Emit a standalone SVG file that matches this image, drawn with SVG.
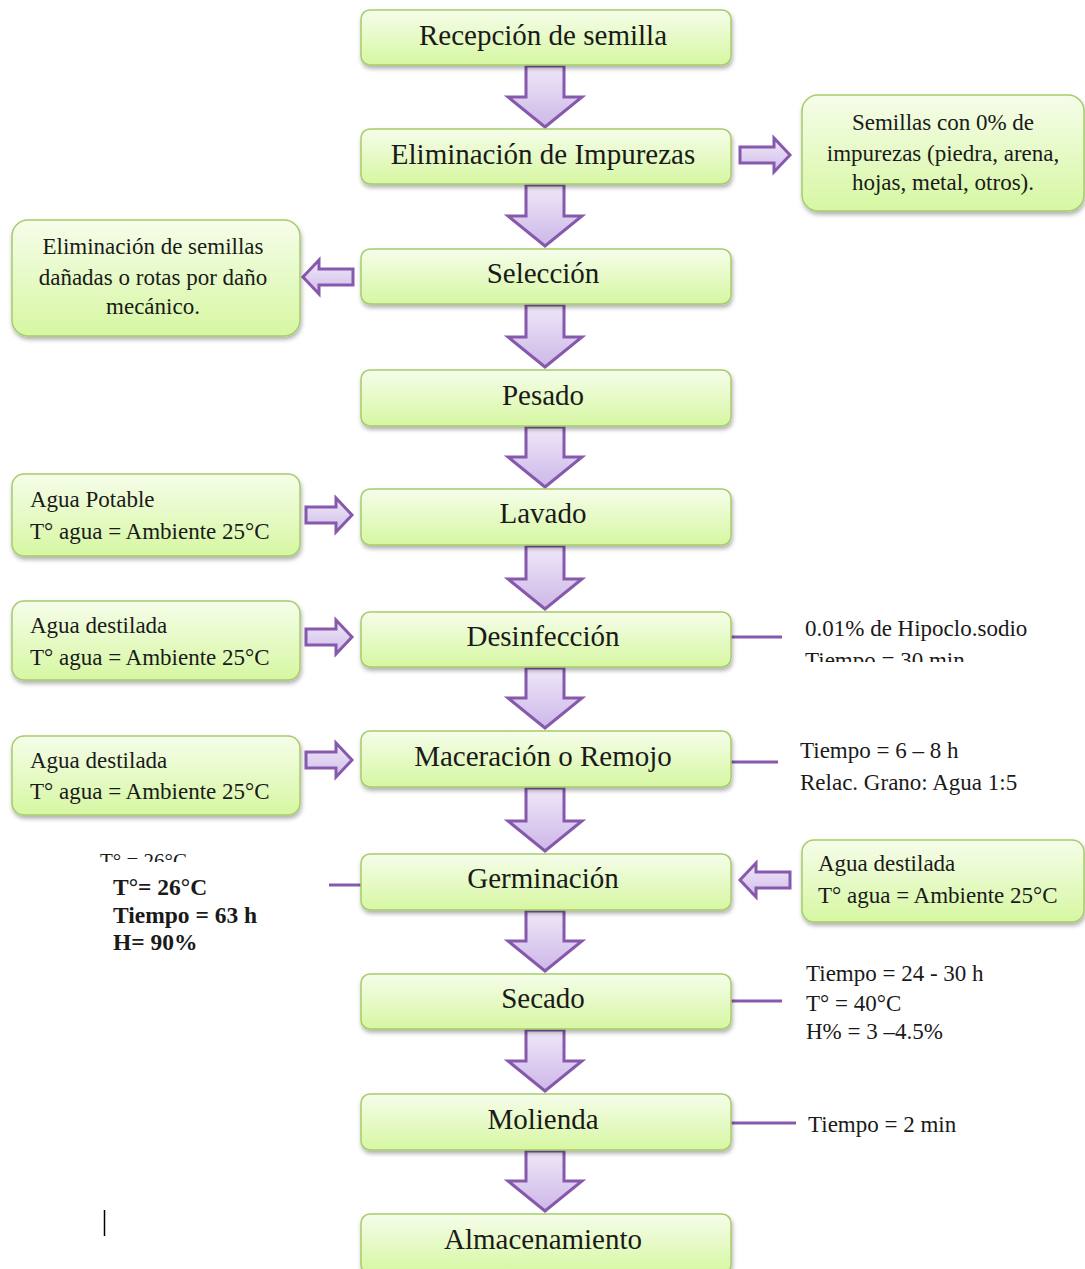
<svg xmlns="http://www.w3.org/2000/svg" width="1085" height="1269" viewBox="0 0 1085 1269">
<defs>
<linearGradient id="gbox" x1="0" y1="0" x2="0" y2="1">
<stop offset="0" stop-color="#f6fdea"/>
<stop offset="1" stop-color="#d6f7a2"/>
</linearGradient>
<linearGradient id="garr" x1="0" y1="0" x2="0" y2="1">
<stop offset="0" stop-color="#efe8f8"/>
<stop offset="1" stop-color="#cdb7e8"/>
</linearGradient>
<linearGradient id="garrh" x1="0" y1="0" x2="0" y2="1">
<stop offset="0" stop-color="#efe8f8"/>
<stop offset="1" stop-color="#d2bdea"/>
</linearGradient>
<filter id="sh" x="-10%" y="-20%" width="120%" height="150%">
<feDropShadow dx="1" dy="3" stdDeviation="2" flood-color="#000" flood-opacity="0.3"/>
</filter>
<clipPath id="clipA"><rect x="790" y="600" width="300" height="62"/></clipPath>
<clipPath id="clipB"><rect x="80" y="848" width="200" height="14"/></clipPath>
</defs>
<style>
.box{fill:url(#gbox);stroke:#a6cc6a;stroke-width:1.5;filter:url(#sh)}
.arr{fill:url(#garr);stroke:#8659ad;stroke-width:3;stroke-linejoin:miter}
.harr{fill:url(#garrh);stroke:#8659ad;stroke-width:3}
.ln{stroke:#8659ad;stroke-width:3;fill:none}
.t{font-family:"Liberation Serif","Times New Roman",serif;fill:#1a1a1a}
.m{font-size:29px;text-anchor:middle}
.s{font-size:23px}
.sc{font-size:23px;text-anchor:middle}
.b{font-weight:bold;font-size:23.5px}
</style>

<g id="connectors">
<path class="arr" d="M526 66 H564 V97 H582 L545 127 L508 97 H526 Z"/>
<path class="arr" d="M526 185 H564 V216 H582 L545 246 L508 216 H526 Z"/>
<path class="arr" d="M526 305 H564 V337 H582 L545 367 L508 337 H526 Z"/>
<path class="arr" d="M526 427 H564 V457 H582 L545 487 L508 457 H526 Z"/>
<path class="arr" d="M526 546 H564 V579 H582 L545 609 L508 579 H526 Z"/>
<path class="arr" d="M526 668 H564 V698 H582 L545 728 L508 698 H526 Z"/>
<path class="arr" d="M526 788 H564 V821 H582 L545 851 L508 821 H526 Z"/>
<path class="arr" d="M526 911 H564 V941 H582 L545 971 L508 941 H526 Z"/>
<path class="arr" d="M526 1030 H564 V1061 H582 L545 1091 L508 1061 H526 Z"/>
<path class="arr" d="M526 1151 H564 V1181 H582 L545 1211 L508 1181 H526 Z"/>
<path class="harr" d="M740 147 H774 V138 L790 155 L774 172 V163 H740 Z"/>
<path class="harr" d="M353 269 H319 V260 L303 277 L319 294 V285 H353 Z"/>
<path class="harr" d="M306 507 H336 V498 L352 515 L336 532 V523 H306 Z"/>
<path class="harr" d="M306 629 H336 V620 L352 637 L336 654 V645 H306 Z"/>
<path class="harr" d="M306 752 H336 V743 L352 760 L336 777 V768 H306 Z"/>
<path class="harr" d="M790 872 H756 V863 L740 880 L756 897 V888 H790 Z"/>
<line class="ln" x1="731" y1="637" x2="782" y2="637"/>
<line class="ln" x1="731" y1="762" x2="778" y2="762"/>
<line class="ln" x1="329" y1="885" x2="361" y2="885"/>
<line class="ln" x1="731" y1="1001" x2="782" y2="1001"/>
<line class="ln" x1="731" y1="1123" x2="796" y2="1123"/>
</g>

<g id="n1"><rect class="box" x="361" y="10" width="370" height="55" rx="9"/><text class="t m" x="543" y="45">Recepción de semilla</text></g>
<g id="n2"><rect class="box" x="361" y="129" width="370" height="55" rx="9"/><text class="t m" x="543" y="164">Eliminación de Impurezas</text></g>
<g id="n3"><rect class="box" x="361" y="249" width="370" height="55" rx="9"/><text class="t m" x="543" y="283">Selección</text></g>
<g id="n4"><rect class="box" x="361" y="370" width="370" height="56" rx="9"/><text class="t m" x="543" y="405">Pesado</text></g>
<g id="n5"><rect class="box" x="361" y="489" width="370" height="56" rx="9"/><text class="t m" x="543" y="523">Lavado</text></g>
<g id="n6"><rect class="box" x="361" y="612" width="370" height="55" rx="9"/><text class="t m" x="543" y="646">Desinfección</text></g>
<g id="n7"><rect class="box" x="361" y="731" width="370" height="56" rx="9"/><text class="t m" x="543" y="766">Maceración o Remojo</text></g>
<g id="n8"><rect class="box" x="361" y="854" width="370" height="56" rx="9"/><text class="t m" x="543" y="888">Germinación</text></g>
<g id="n9"><rect class="box" x="361" y="974" width="370" height="55" rx="9"/><text class="t m" x="543" y="1008">Secado</text></g>
<g id="n10"><rect class="box" x="361" y="1094" width="370" height="56" rx="9"/><text class="t m" x="543" y="1129">Molienda</text></g>
<g id="n11"><rect class="box" x="361" y="1214" width="370" height="60" rx="9"/><text class="t m" x="543" y="1249">Almacenamiento</text></g>

<g id="side1"><rect class="box" x="802" y="95" width="282" height="116" rx="16"/>
<text class="t sc" x="943" y="130">Semillas con 0% de</text>
<text class="t sc" x="943" y="161">impurezas (piedra, arena,</text>
<text class="t sc" x="943" y="190">hojas, metal, otros).</text></g>

<g id="side2"><rect class="box" x="12" y="220" width="288" height="116" rx="16"/>
<text class="t sc" x="153" y="254">Eliminación de semillas</text>
<text class="t sc" x="153" y="285">dañadas o rotas por daño</text>
<text class="t sc" x="153" y="314">mecánico.</text></g>

<g id="side3"><rect class="box" x="12" y="474" width="288" height="82" rx="12"/>
<text class="t s" x="30" y="507">Agua Potable</text>
<text class="t s" x="30" y="539">T° agua = Ambiente 25°C</text></g>

<g id="side4"><rect class="box" x="12" y="601" width="288" height="79" rx="12"/>
<text class="t s" x="30" y="633">Agua destilada</text>
<text class="t s" x="30" y="665">T° agua = Ambiente 25°C</text></g>

<g id="side5"><rect class="box" x="12" y="736" width="288" height="79" rx="12"/>
<text class="t s" x="30" y="768">Agua destilada</text>
<text class="t s" x="30" y="799">T° agua = Ambiente 25°C</text></g>

<g id="side6"><rect class="box" x="802" y="840" width="282" height="82" rx="12"/>
<text class="t s" x="818" y="871">Agua destilada</text>
<text class="t s" x="818" y="903">T° agua = Ambiente 25°C</text></g>

<g id="notes">
<text class="t s" x="805" y="636">0.01% de Hipoclo.sodio</text>
<g clip-path="url(#clipA)"><text class="t s" x="805" y="668">Tiempo = 30 min</text></g>
<text class="t s" x="800" y="758">Tiempo = 6 – 8 h</text>
<text class="t s" x="800" y="790">Relac. Grano: Agua 1:5</text>
<g clip-path="url(#clipB)"><text class="t" style="font-size:21px" x="100" y="868">T° = 26°C</text></g>
<text class="t b" x="113" y="895">T°= 26°C</text>
<text class="t b" x="113" y="923">Tiempo = 63 h</text>
<text class="t b" x="113" y="950">H= 90%</text>
<text class="t s" x="806" y="981">Tiempo = 24 - 30 h</text>
<text class="t s" x="806" y="1011">T° = 40°C</text>
<text class="t s" x="806" y="1039">H% = 3 –4.5%</text>
<text class="t s" x="808" y="1132">Tiempo = 2 min</text>
<line x1="104.5" y1="1210" x2="104.5" y2="1236" stroke="#000" stroke-width="1.5"/>
</g>
</svg>
